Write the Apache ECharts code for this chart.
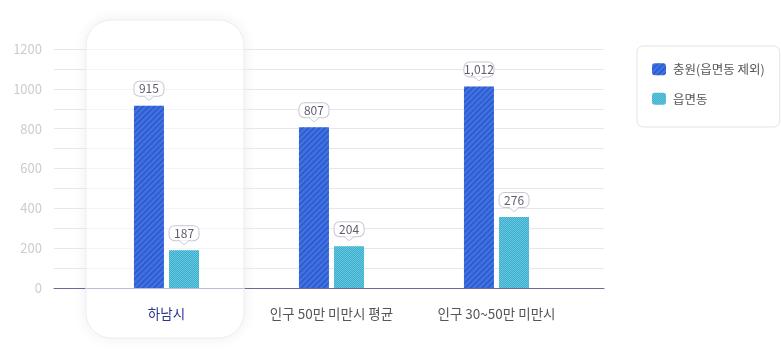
<!DOCTYPE html>
<html>
<head>
<meta charset="utf-8">
<script src="https://cdn.jsdelivr.net/npm/echarts@6/dist/echarts.min.js"></script>
<style>
html,body{margin:0;padding:0;background:#fff;}
#c{width:781px;height:362px;}
</style>
</head>
<body>
<div id="c"></div>
<script>
var categories = ['하남시', '인구 50만 미만시 평균', '인구 30~50만 미만시'];
var seriesNames = ['충원(읍면동 제외)', '읍면동'];
var chungwonValues = [915, 807, 1012];
var chungwonLabels = ['915', '807', '1,012'];
var eupValues = [190, 210, 356];
var eupLabels = ['187', '204', '276'];
var yTicks = [0, 200, 400, 600, 800, 1000, 1200];

var FONT = '"Noto Sans CJK KR", "Noto Sans", sans-serif';
var arrowSvg = "data:image/svg+xml;utf8," + encodeURIComponent(
  "<svg xmlns='http://www.w3.org/2000/svg' width='10' height='6'><path d='M0 0.5 L5 5.5 L10 0.5' fill='white' stroke='#c6c6d4' stroke-width='1'/><rect x='1' y='0' width='8' height='0.8' fill='white'/></svg>");

function labelOpt(texts) {
  return {
    show: true,
    position: 'top',
    distance: 5,
    formatter: function (p) { return '{a|' + texts[p.dataIndex] + '}\n{b|}'; },
    rich: {
      a: {
        fontFamily: FONT, fontSize: 12, color: '#5d5d70',
        backgroundColor: '#fff', borderColor: '#c6c6d4', borderWidth: 1,
        borderRadius: 5, padding: [1, 1, 1, 1], width: 27, lineHeight: 14, align: 'center'
      },
      b: {
        height: 5, width: 10, align: 'center',
        backgroundColor: { image: arrowSvg }
      }
    }
  };
}

var chart = echarts.init(document.getElementById('c'), null, { renderer: 'canvas' });
var option = {
  animation: false,
  textStyle: { fontFamily: FONT },
  grid: [
    { left: 54, width: 550, top: 49, bottom: 74 },
    { left: 84, width: 495, top: 49, bottom: 74 }
  ],
  legend: {
    orient: 'vertical',
    left: 637, top: 46,
    padding: [17, 15, 22, 15],
    itemWidth: 14, itemHeight: 12, itemGap: 17,
    borderColor: '#e3e3ea', borderWidth: 1, borderRadius: 6,
    backgroundColor: '#fff',
    textStyle: { fontFamily: FONT, fontSize: 12.5, color: '#555', padding: [0, 0, 0, 2] },
    data: seriesNames
  },
  xAxis: [
    {
      gridIndex: 0, type: 'category', data: [''],
      axisLine: { show: true, lineStyle: { color: '#6b6b9b', width: 1 } },
      axisTick: { show: false }, axisLabel: { show: false }, splitLine: { show: false }
    },
    {
      gridIndex: 1, type: 'category', data: categories, z: 6,
      axisLine: { show: false }, axisTick: { show: false },
      axisLabel: {
        margin: 19, fontSize: 13.5, fontFamily: FONT,
        color: function (v, i) { return i === 0 ? '#2d3190' : '#555'; }
      }
    }
  ],
  yAxis: [
    {
      gridIndex: 0, type: 'value', min: 0, max: 1200, interval: 100,
      axisLine: { show: false }, axisTick: { show: false },
      axisLabel: {
        margin: 12, fontSize: 13, color: '#cccccc', fontFamily: FONT,
        formatter: function (v) { return yTicks.indexOf(v) >= 0 ? String(v) : ''; }
      },
      splitLine: { show: true, lineStyle: { color: '#e6e6ee', width: 1 } }
    },
    {
      gridIndex: 1, type: 'value', min: 0, max: 1200, interval: 100, show: false,
      splitLine: { show: false }
    }
  ],
  series: [
    {
      name: seriesNames[0], type: 'bar', xAxisIndex: 1, yAxisIndex: 1,
      data: chungwonValues, barWidth: 30, barGap: '17%', z: 3,
      itemStyle: {
        color: '#3d70e4',
        decal: {
          symbol: 'rect', symbolSize: 1, color: 'rgba(28,52,150,0.55)',
          dashArrayX: [1, 0], dashArrayY: [1, 3], rotation: -Math.PI / 4
        }
      },
      label: labelOpt(chungwonLabels)
    },
    {
      name: seriesNames[1], type: 'bar', xAxisIndex: 1, yAxisIndex: 1,
      data: eupValues, barWidth: 30, barGap: '17%', z: 3,
      itemStyle: {
        color: '#5dcbe2',
        decal: {
          symbol: 'rect', symbolSize: 1, color: 'rgba(40,130,170,0.45)',
          dashArrayX: [[1, 1], [0, 1, 1, 0]], dashArrayY: [1, 0], rotation: 0
        }
      },
      label: labelOpt(eupLabels)
    }
  ]
};
chart.setOption(option);

var cx = chart.convertToPixel({ xAxisIndex: 1 }, categories[0]) - 1.5;
chart.setOption({
  graphic: [
    {
      type: 'rect', z: -1, silent: true,
      shape: { x: cx - 79, y: 20, width: 158, height: 318, r: 25 },
      style: { fill: '#fff', shadowBlur: 14, shadowColor: 'rgba(40,40,90,0.08)' }
    },
    {
      type: 'rect', z: 1, silent: true,
      shape: { x: cx - 79, y: 20, width: 158, height: 318, r: 25 },
      style: { fill: 'rgba(255,255,255,0.55)', stroke: '#ececf2', lineWidth: 1 }
    }
  ]
});
</script>
</body>
</html>
